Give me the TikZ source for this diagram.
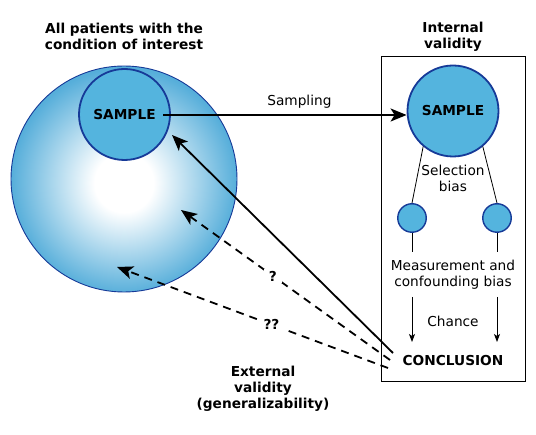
\documentclass[tikz,border=0pt]{standalone}
\usepackage{fontspec}
\setmainfont{DejaVu Sans}
\usetikzlibrary{positioning,arrows.meta}
\definecolor{smpBlue}{RGB}{84,180,222}
\definecolor{ballBlue}{RGB}{86,174,218}
\definecolor{rimBlue}{RGB}{22,58,152}
\pgfdeclareradialshading{ballshade}{\pgfpoint{0bp}{-1bp}}{color(0bp)=(white); color(6.5bp)=(white); color(25bp)=(ballBlue); color(50bp)=(ballBlue)}

\begin{document}
\begin{tikzpicture}[x=1pt,y=-1pt,
   lbl/.style={font=\fontsize{13.7}{16}\selectfont,align=center,inner sep=1pt},
   hd/.style={font=\fontsize{13.7}{16}\selectfont\bfseries,align=center,inner sep=1pt},
   smp/.style={circle,draw=rimBlue,line width=1.8pt,fill=smpBlue,minimum size=91pt,inner sep=0pt,font=\fontsize{13.7}{16}\selectfont\bfseries},
   sel/.style={circle,draw=rimBlue,line width=1.4pt,fill=smpBlue,minimum size=28.5pt,inner sep=0pt},
   ln/.style={line width=0.8pt},
   arr/.style={-{Stealth[length=16pt,width=13pt,inset=4pt]},line width=1.8pt},
   dsh/.style={arr,dash pattern=on 8pt off 6pt},
   arrS/.style={ln,-{Stealth[length=8pt,width=6pt,inset=2pt]}},
   qm/.style={hd,fill=white,inner xsep=5pt,inner ysep=2pt}]
\useasboundingbox (0,0) rectangle (536,435);
%% ---- population ----
\node[hd] (popT) at (124,36.5) {All patients with the\\condition of interest};
\node[circle,shade,shading=ballshade,draw=rimBlue,line width=0.9pt,minimum size=226pt,inner sep=0pt] (pop) at (124,179) {};
\node[smp] (smpL) at (124.5,114.5) {SAMPLE};

%% ---- internal validity ----
\node[hd] (intT) at (453,36.5) {Internal\\validity};
\draw[ln] (381,56) rectangle (525,381);
\node[smp] (smpR) at (453,111) {SAMPLE};
\node[sel] (selL) at (412,218) {};
\node[sel] (selR) at (497,218) {};
\node[lbl] (selT) at (453,178) {Selection\\bias};
\draw[ln] (smpR.-130) -- (selL.north);
\draw[ln] (smpR.-50) -- (selR.north);
\node[lbl] (meas) at (453,274.5) {Measurement and\\confounding bias};
\node[lbl] (chance) at (453,321) {Chance};
\node[hd] (concl) at (453,361) {CONCLUSION};
\coordinate (measTop) at (0,252);
\coordinate (measBot) at (0,297);
\coordinate (conclTop) at (0,342);
\foreach \s in {selL,selR} {
  \draw[ln] (\s.south) -- (\s |- measTop);
  \draw[arrS] (\s |- measBot) -- (\s |- conclTop);
}

%% ---- sampling ----
\coordinate (sampOut) at (163,115);
\draw[arr] (sampOut) -- (sampOut -| smpR.west) node[lbl,pos=0.56,above=5pt] (sampT) {Sampling};

%% ---- external validity ----
\coordinate (solA) at (393,353);
\coordinate (solB) at (172,135);
\draw[arr] (solA) -- (solB);
\coordinate (d1A) at (390,360);
\coordinate (d1B) at (181,210);
\draw[dsh] (d1A) -- node[qm,pos=0.56] (q1) {?} (d1B);
\coordinate (d2A) at (388,368);
\coordinate (d2B) at (117,267);
\draw[dsh] (d2A) -- node[qm,pos=0.43] (q2) {??} (d2B);
\node[hd] (extT) at (263,388.5) {External\\validity\\(generalizability)};
\end{tikzpicture}
\end{document}
